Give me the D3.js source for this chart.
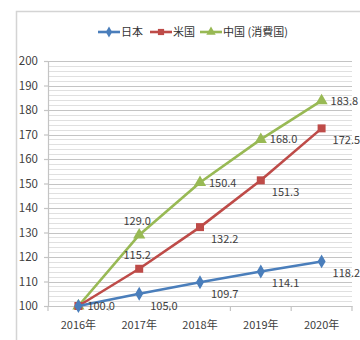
<!DOCTYPE html>
<html>
<head>
<meta charset="utf-8">
<script src="https://cdn.jsdelivr.net/npm/d3@7"></script>
<style>
  html, body { margin: 0; padding: 0; background: #fff; }
  svg { display: block; }
  text { font-family: "Liberation Sans Narrow", "Arial Narrow", "Noto Sans CJK JP", sans-serif; }
</style>
</head>
<body>
<svg id="chart" width="360" height="340"></svg>
<script>
// Index values (2016 = 100)
const years = ["2016年", "2017年", "2018年", "2019年", "2020年"];
const japan = [100.0, 105.0, 109.7, 114.1, 118.2];
const usa = [100.0, 115.2, 132.2, 151.3, 172.5];
const china = [100.0, 129.0, 150.4, 168.0, 183.8];
const yTicks = [100, 110, 120, 130, 140, 150, 160, 170, 180, 190, 200];

const series = [
  { name: "日本", values: japan, color: "#4a7ebb", marker: "diamond" },
  { name: "米国", values: usa, color: "#be4b48", marker: "square" },
  { name: "中国 (消費国)", values: china, color: "#98b954", marker: "triangle" }
];

// Where each value label sits relative to its point
const labelPlace = {
  "日本": ["right", "belowRight", "belowRight", "belowRight", "belowRight"],
  "米国": ["none", "above", "belowRight", "belowRight", "belowRight"],
  "中国 (消費国)": ["none", "above", "right", "right", "right"]
};

const svg = d3.select("#chart");
const W = 360, H = 340;
const m = { left: 48, right: 8, top: 61, bottom: 34 };
const plotW = W - m.left - m.right;
const plotH = H - m.top - m.bottom;

// Outer chart frame
svg.append("rect")
  .attr("x", 16.5).attr("y", 11.5)
  .attr("width", 400).attr("height", 400)
  .attr("fill", "#fff").attr("stroke", "#d4d4d4").attr("stroke-width", 1.5);

const x = d3.scaleBand().domain(years).range([m.left, m.left + plotW]).padding(0);
const y = d3.scaleLinear().domain([100, 200]).range([m.top + plotH, m.top]);

const g = svg.append("g");

// Minor gridlines every 2
g.append("g").selectAll("line")
  .data(d3.range(102, 200, 2).filter(v => v % 10 !== 0))
  .join("line")
  .attr("x1", m.left).attr("x2", m.left + plotW)
  .attr("y1", d => Math.round(y(d)) + 0.5).attr("y2", d => Math.round(y(d)) + 0.5)
  .attr("stroke", "#e0e0e0").attr("stroke-width", 1.2);

// Major gridlines
g.append("g").selectAll("line")
  .data(yTicks.slice(1))
  .join("line")
  .attr("x1", m.left).attr("x2", m.left + plotW)
  .attr("y1", d => Math.round(y(d)) + 0.5).attr("y2", d => Math.round(y(d)) + 0.5)
  .attr("stroke", "#c4c4c4").attr("stroke-width", 1.2);

// Y axis
const yAxis = d3.axisLeft(y).tickValues(yTicks).tickSize(4).tickPadding(6).tickFormat(d3.format("d"));
const yg = g.append("g").attr("transform", `translate(${m.left},0)`).call(yAxis);
yg.select(".domain").attr("stroke", "#c4c4c4").attr("stroke-width", 1.2);
yg.selectAll(".tick line").attr("stroke", "#c4c4c4").attr("stroke-width", 1.2);
yg.selectAll(".tick text").attr("font-size", 11.5).attr("fill", "#404040")
  .attr("font-family", "'Liberation Sans Narrow', sans-serif");

// X axis
const xAxis = d3.axisBottom(x).tickSize(0).tickPadding(15);
const xg = g.append("g").attr("transform", `translate(0,${m.top + plotH})`).call(xAxis);
xg.select(".domain").attr("stroke", "#c4c4c4").attr("stroke-width", 1.2);
xg.selectAll(".tick text").attr("font-size", 11).attr("fill", "#404040");
// Tick marks at category boundaries
xg.append("g").selectAll("line")
  .data(years.concat(["end"]))
  .join("line")
  .attr("x1", (d, i) => m.left + i * x.bandwidth())
  .attr("x2", (d, i) => m.left + i * x.bandwidth())
  .attr("y1", 0).attr("y2", 5)
  .attr("stroke", "#c4c4c4").attr("stroke-width", 1.2);

const cx = (i) => x(years[i]) + x.bandwidth() / 2;

const markerPath = (type, k = 1) => {
  if (type === "diamond") return d3.symbol(d3.symbolDiamond, 56 * k)();
  if (type === "square") return d3.symbol(d3.symbolSquare, 64 * k)();
  return d3.symbol(d3.symbolTriangle, 64 * k)();
};

const line = d3.line().x((d, i) => cx(i)).y(d => y(d));

// Draw in reverse so 日本 sits on top
series.slice().reverse().forEach(s => {
  g.append("path").datum(s.values)
    .attr("d", line)
    .attr("fill", "none").attr("stroke", s.color).attr("stroke-width", 2.6)
    .attr("stroke-linejoin", "round");
  g.append("g").selectAll("path")
    .data(s.values)
    .join("path")
    .attr("d", markerPath(s.marker))
    .attr("transform", (d, i) => `translate(${cx(i)},${y(d)})`)
    .attr("fill", s.color);
});

// Value labels
series.forEach(s => {
  g.append("g").selectAll("text")
    .data(s.values.map((v, i) => ({ v, i })).filter(d => labelPlace[s.name][d.i] !== "none"))
    .join("text")
    .each(function (d) {
      const place = labelPlace[s.name][d.i];
      const px = cx(d.i), py = y(d.v);
      let tx = px, ty = py, anchor = "middle";
      if (place === "right") { tx = px + 9; ty = py + 4; anchor = "start"; }
      if (place === "belowRight") { tx = px + 11; ty = py + 16; anchor = "start"; }
      if (place === "above") { tx = px - 2; ty = py - 10; anchor = "middle"; }
      d3.select(this)
        .attr("x", tx).attr("y", ty).attr("text-anchor", anchor)
        .attr("font-size", 11).attr("fill", "#404040")
        .text(d.v.toFixed(1));
    });
});

// Legend
const legend = svg.append("g").attr("transform", "translate(0,32)");
const legendX = [98, 150, 200];
series.forEach((s, i) => {
  const lg = legend.append("g").attr("transform", `translate(${legendX[i]},0)`);
  lg.append("line").attr("x1", 0).attr("x2", 22).attr("y1", 0).attr("y2", 0)
    .attr("stroke", s.color).attr("stroke-width", 2.6);
  lg.append("path").attr("d", markerPath(s.marker, 0.6)).attr("transform", "translate(11,0)")
    .attr("fill", s.color);
  lg.append("text").attr("x", 23).attr("y", 4)
    .attr("font-size", 11).attr("fill", "#333")
    .attr("font-family", "'Noto Sans CJK JP', sans-serif")
    .text(s.name);
});
</script>
</body>
</html>
